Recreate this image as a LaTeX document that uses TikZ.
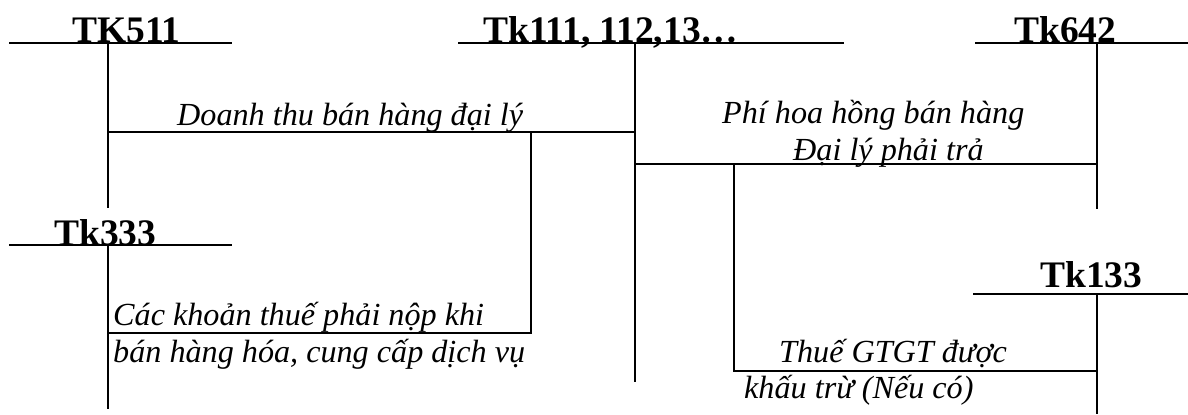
\documentclass[tikz,border=0pt]{standalone}
\usepackage{fontspec}
\setmainfont{Liberation Serif}
\begin{document}
\begin{tikzpicture}[x=1bp,y=-1bp]
\tikzset{
  ln/.style={line width=2bp, draw=black},
  acct/.style={font=\fontsize{37.6}{42}\selectfont\bfseries, inner sep=0pt, anchor=base west},
  lbl/.style={font=\fontsize{32.3}{38}\selectfont\itshape, inner sep=0pt, anchor=base west},
}
\useasboundingbox (0,0) rectangle (1188,414);
% account titles
\node[acct] (tk511) at (72,42) {TK511};
\node[acct] (tk111) at (483,42) {Tk111, 112,13…};
\node[acct] (tk642) at (1014,42) {Tk642};
\node[acct] (tk333) at (54,245) {Tk333};
\node[acct] (tk133) at (1040,287) {Tk133};
% T-account axes
\coordinate (a511L) at (9,43.3);   \coordinate (a511R) at (232,43.3);
\coordinate (a511T) at (107.7,43.3); \coordinate (a511B) at (107.7,208);
\coordinate (a111L) at (458,43.3); \coordinate (a111R) at (844,43.3);
\coordinate (a111T) at (635,43.3); \coordinate (a111B) at (635,381.7);
\coordinate (a642L) at (975,43.3); \coordinate (a642R) at (1188,43.3);
\coordinate (a642T) at (1096.7,43.3); \coordinate (a642B) at (1096.7,209);
\coordinate (a333L) at (9,245);    \coordinate (a333R) at (232,245);
\coordinate (a333T) at (107.7,245); \coordinate (a333B) at (107.7,409);
\coordinate (a133L) at (973,294.3); \coordinate (a133R) at (1188,294.3);
\coordinate (a133T) at (1096.7,294.3); \coordinate (a133B) at (1096.7,414);
\foreach \a in {511,111,642,333,133}{
  \draw[ln] (a\a L) -- (a\a R);
  \draw[ln] (a\a T) -- (a\a B);
}
% entries
\coordinate (e1s) at (107.7,131.7); \coordinate (e1e) at (635,131.7);
\coordinate (e2t) at (530.7,131.7); \coordinate (e2b) at (530.7,333); \coordinate (e2e) at (107.7,333);
\coordinate (e3s) at (635,163.5); \coordinate (e3e) at (1096.7,163.5);
\coordinate (e4t) at (734.3,163.5); \coordinate (e4b) at (734.3,371); \coordinate (e4e) at (1096.7,371);
\draw[ln] (e1s) -- (e1e);
\draw[ln] (e2t) -- (e2b) -- (e2e);
\draw[ln] (e3s) -- (e3e);
\draw[ln] (e4t) -- (e4b) -- (e4e);
% labels
\node[lbl] (l1) at (177,125) {Doanh thu bán hàng đại lý};
\node[lbl] (l2a) at (722,123) {Phí hoa hồng bán hàng};
\node[lbl] (l2b) at (793,160) {Đại lý phải trả};
\node[lbl] (l3a) at (113,325) {Các khoản thuế phải nộp khi};
\node[lbl] (l3b) at (113,362) {bán hàng hóa, cung cấp dịch vụ};
\node[lbl] (l4a) at (779,362) {Thuế GTGT được};
\node[lbl] (l4b) at (744,398) {khấu trừ (Nếu có)};
\end{tikzpicture}
\end{document}
